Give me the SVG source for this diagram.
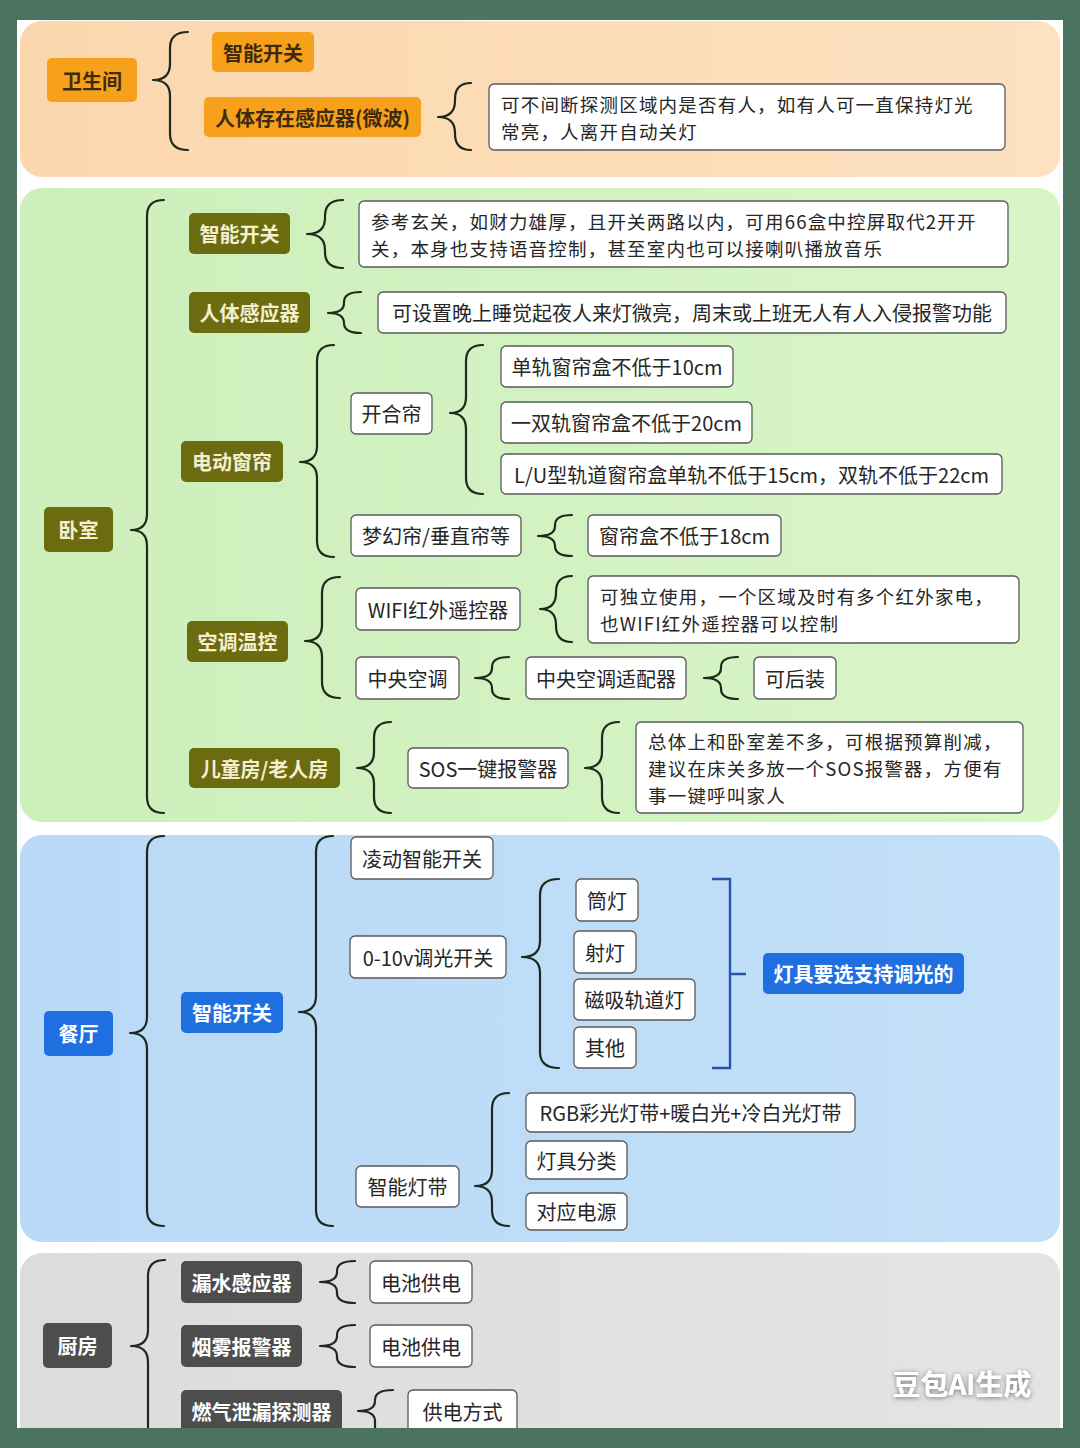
<svg xmlns="http://www.w3.org/2000/svg" width="1080" height="1448" viewBox="0 0 1080 1448">
<style>
.t{font-family:"Noto Sans CJK SC","Noto Sans",sans-serif;font-size:20px;fill:#262626;dominant-baseline:central}
.m{font-size:18.5px;letter-spacing:1.2px}
.c{text-anchor:middle}
.b{font-weight:700}
.wb{fill:#fff;stroke:#595959;stroke-width:1.3}
.or{fill:#f7a01c}
.ol{fill:#6d6b10}
.bl{fill:#1f6fe0}
.gr{fill:#4d4d4d}
.tor{fill:#3d2b0c}
.tol{fill:#f4efcf}
.tw{fill:#ffffff}
.br{fill:none;stroke:#1d2a1d;stroke-width:2.2;stroke-linecap:round;stroke-linejoin:round}
</style>
<defs>
<linearGradient id="gPeach" x1="0" y1="0" x2="1" y2="0"><stop offset="0" stop-color="#fbd7ad"/><stop offset="1" stop-color="#fde1c0"/></linearGradient>
<linearGradient id="gGreen" x1="0" y1="0" x2="1" y2="0"><stop offset="0" stop-color="#cdefbb"/><stop offset="1" stop-color="#d8f5c8"/></linearGradient>
<linearGradient id="gBlue" x1="0" y1="0" x2="1" y2="0"><stop offset="0" stop-color="#b9d9f6"/><stop offset="1" stop-color="#c2e0f8"/></linearGradient>
<linearGradient id="gGray" x1="0" y1="0" x2="1" y2="0"><stop offset="0" stop-color="#dcdcdc"/><stop offset="1" stop-color="#e4e4e4"/></linearGradient>
<filter id="sh" x="-20%" y="-40%" width="140%" height="180%"><feGaussianBlur in="SourceAlpha" stdDeviation="2.5"/><feOffset dx="0" dy="1"/><feComponentTransfer><feFuncA type="linear" slope="0.5"/></feComponentTransfer><feMerge><feMergeNode/><feMergeNode in="SourceGraphic"/></feMerge></filter>
</defs>
<rect x="0" y="0" width="1080" height="1448" fill="#4a7360"/>
<rect x="17" y="20" width="1046" height="1408" fill="#ffffff"/>
<g id="panels">
<rect x="20" y="21" width="1040" height="156" rx="22" fill="url(#gPeach)"/>
<rect x="20" y="188" width="1040" height="634" rx="22" fill="url(#gGreen)"/>
<rect x="20" y="835" width="1040" height="407" rx="22" fill="url(#gBlue)"/>
<rect x="20" y="1253" width="1040" height="220" rx="22" fill="url(#gGray)"/>
</g>
<g id="connectors">
<path class="br" d="M188,32 Q170,32 170,48 V64 Q170,80 153,80 Q170,80 170,96 V134 Q170,150 188,150"/>
<path class="br" d="M471,83 Q455,83 455,99 V101 Q455,117 438,117 Q455,117 455,133 V134 Q455,150 471,150"/>
<path class="br" d="M164,200 Q147,200 147,216 V514 Q147,530 131,530 Q147,530 147,546 V797 Q147,813 164,813"/>
<path class="br" d="M343,200 Q325,200 325,216 V218 Q325,234 307,234 Q325,234 325,250 V252 Q325,268 343,268"/>
<path class="br" d="M361,292 Q344,292 344,302 V303 Q344,313 328,313 Q344,313 344,323 Q344,333 361,333"/>
<path class="br" d="M334,345 Q317,345 317,361 V446 Q317,462 300,462 Q317,462 317,478 V541 Q317,557 334,557"/>
<path class="br" d="M483,345 Q466,345 466,361 V397 Q466,413 450,413 Q466,413 466,429 V478 Q466,494 483,494"/>
<path class="br" d="M572,515 Q555,515 555,525 V526 Q555,536 538,536 Q555,536 555,546 Q555,556 572,556"/>
<path class="br" d="M340,577 Q322,577 322,593 V625 Q322,641 305,641 Q322,641 322,657 V682 Q322,698 340,698"/>
<path class="br" d="M572,576 Q556,576 556,592 V593 Q556,609 540,609 Q556,609 556,625 V626 Q556,642 572,642"/>
<path class="br" d="M509,657 Q492,657 492,667 V668 Q492,678 475,678 Q492,678 492,688 V689 Q492,699 509,699"/>
<path class="br" d="M738,657 Q721,657 721,667 V668 Q721,678 704,678 Q721,678 721,688 V689 Q721,699 738,699"/>
<path class="br" d="M391,722 Q374,722 374,738 V752 Q374,768 357,768 Q374,768 374,784 V797 Q374,813 391,813"/>
<path class="br" d="M619,722 Q602,722 602,738 V752 Q602,768 585,768 Q602,768 602,784 V797 Q602,813 619,813"/>
<path class="br" d="M164,836 Q147,836 147,852 V1017 Q147,1033 130,1033 Q147,1033 147,1049 V1210 Q147,1226 164,1226"/>
<path class="br" d="M333,836 Q316,836 316,852 V996 Q316,1012 299,1012 Q316,1012 316,1028 V1210 Q316,1226 333,1226"/>
<path class="br" d="M559,879 Q540,879 540,895 V941 Q540,957 522,957 Q540,957 540,973 V1052 Q540,1068 559,1068"/>
<path fill="none" stroke="#2456a8" stroke-width="2.4" d="M712,879 H730 V1068 H712 M730,974 H746"/>
<path class="br" d="M509,1093 Q492,1093 492,1109 V1170 Q492,1186 475,1186 Q492,1186 492,1202 V1210 Q492,1226 509,1226"/>
<path class="br" d="M165,1260 Q148,1260 148,1276 V1330 Q148,1346 131,1346 Q148,1346 148,1362 V1460"/>
<path class="br" d="M355,1261 Q337,1261 337,1271 V1272 Q337,1282 320,1282 Q337,1282 337,1292 V1293 Q337,1303 355,1303"/>
<path class="br" d="M355,1325 Q337,1325 337,1335 V1336 Q337,1346 320,1346 Q337,1346 337,1356 V1357 Q337,1367 355,1367"/>
<path class="br" d="M393,1390 Q375,1390 375,1400 V1401 Q375,1411 358,1411 Q375,1411 375,1421 V1460"/>
</g>
<g id="n_wsj"><rect class="or" x="47" y="58" width="90" height="44" rx="5"/><text class="t c b tor" x="92" y="80">卫生间</text></g>
<g id="n_wsj_kg"><rect class="or" x="212" y="32" width="102" height="40" rx="5"/><text class="t c b tor" x="263" y="52">智能开关</text></g>
<g id="n_wsj_rt"><rect class="or" x="204" y="97" width="217" height="40" rx="5"/><text class="t c b tor" x="312.5" y="117">人体存在感应器(微波)</text></g>
<g id="n_wsj_desc"><rect class="wb" x="489" y="84" width="516" height="66" rx="5"/><text class="t m"><tspan x="501" y="103.5">可不间断探测区域内是否有人，如有人可一直保持灯光</tspan><tspan x="501" y="130.5">常亮，人离开自动关灯</tspan></text></g>

<g id="n_ws"><rect class="ol" x="44" y="507" width="69" height="45" rx="5"/><text class="t c b tol" x="78.5" y="529.5">卧室</text></g>
<g id="n_ws_kg"><rect class="ol" x="189" y="213" width="101" height="41" rx="5"/><text class="t c b tol" x="239.5" y="233.5">智能开关</text></g>
<g id="n_ws_kg_desc"><rect class="wb" x="359" y="201" width="649" height="66" rx="5"/><text class="t m"><tspan x="371" y="220.5">参考玄关，如财力雄厚，且开关两路以内，可用66盒中控屏取代2开开</tspan><tspan x="371" y="247.5">关，本身也支持语音控制，甚至室内也可以接喇叭播放音乐</tspan></text></g>
<g id="n_ws_rt"><rect class="ol" x="189" y="292" width="121" height="41" rx="5"/><text class="t c b tol" x="249.5" y="312.5">人体感应器</text></g>
<g id="n_ws_rt_desc"><rect class="wb" x="378" y="292" width="628" height="41" rx="5"/><text class="t c" x="692" y="312.5">可设置晚上睡觉起夜人来灯微亮，周末或上班无人有人入侵报警功能</text></g>
<g id="n_ws_cl"><rect class="ol" x="181" y="441" width="102" height="41" rx="5"/><text class="t c b tol" x="232" y="461.5">电动窗帘</text></g>
<g id="n_khl"><rect class="wb" x="351" y="393" width="81" height="41" rx="5"/><text class="t c" x="391.5" y="413.5">开合帘</text></g>
<g id="n_khl_1"><rect class="wb" x="501" y="346" width="232" height="41" rx="5"/><text class="t c" x="617" y="366.5">单轨窗帘盒不低于10cm</text></g>
<g id="n_khl_2"><rect class="wb" x="501" y="402" width="251" height="41" rx="5"/><text class="t c" x="626.5" y="422.5">一双轨窗帘盒不低于20cm</text></g>
<g id="n_khl_3"><rect class="wb" x="501" y="454" width="501" height="40" rx="5"/><text class="t c" x="751.5" y="474">L/U型轨道窗帘盒单轨不低于15cm，双轨不低于22cm</text></g>
<g id="n_mh"><rect class="wb" x="351" y="515" width="170" height="41" rx="5"/><text class="t c" x="436" y="535.5">梦幻帘/垂直帘等</text></g>
<g id="n_mh_1"><rect class="wb" x="588" y="515" width="193" height="41" rx="5"/><text class="t c" x="684.5" y="535.5">窗帘盒不低于18cm</text></g>
<g id="n_kt"><rect class="ol" x="187" y="621" width="101" height="41" rx="5"/><text class="t c b tol" x="237.5" y="641.5">空调温控</text></g>
<g id="n_wifi"><rect class="wb" x="356" y="588" width="164" height="42" rx="5"/><text class="t c" x="438" y="609">WIFI红外遥控器</text></g>
<g id="n_wifi_desc"><rect class="wb" x="588" y="576" width="431" height="67" rx="5"/><text class="t m"><tspan x="600" y="596">可独立使用，一个区域及时有多个红外家电，</tspan><tspan x="600" y="623">也WIFI红外遥控器可以控制</tspan></text></g>
<g id="n_zykt"><rect class="wb" x="356" y="657" width="103" height="42" rx="5"/><text class="t c" x="407.5" y="678">中央空调</text></g>
<g id="n_zykt_1"><rect class="wb" x="526" y="657" width="160" height="42" rx="5"/><text class="t c" x="606" y="678">中央空调适配器</text></g>
<g id="n_zykt_2"><rect class="wb" x="754" y="657" width="82" height="42" rx="5"/><text class="t c" x="795" y="678">可后装</text></g>
<g id="n_et"><rect class="ol" x="189" y="748" width="151" height="40" rx="5"/><text class="t c b tol" x="264.5" y="768">儿童房/老人房</text></g>
<g id="n_sos"><rect class="wb" x="408" y="748" width="160" height="40" rx="5"/><text class="t c" x="488" y="768">SOS一键报警器</text></g>
<g id="n_sos_desc"><rect class="wb" x="636" y="722" width="387" height="91" rx="5"/><text class="t m"><tspan x="648" y="740.5">总体上和卧室差不多，可根据预算削减，</tspan><tspan x="648" y="767.5">建议在床关多放一个SOS报警器，方便有</tspan><tspan x="648" y="794.5">事一键呼叫家人</tspan></text></g>

<g id="n_ct"><rect class="bl" x="44" y="1011" width="69" height="45" rx="5"/><text class="t c b tw" x="78.5" y="1033.5">餐厅</text></g>
<g id="n_ct_kg"><rect class="bl" x="181" y="992" width="102" height="41" rx="5"/><text class="t c b tw" x="232" y="1012.5">智能开关</text></g>
<g id="n_ld"><rect class="wb" x="351" y="837" width="142" height="42" rx="5"/><text class="t c" x="422" y="858">凌动智能开关</text></g>
<g id="n_010"><rect class="wb" x="350" y="936" width="156" height="42" rx="5"/><text class="t c" x="428" y="957">0-10v调光开关</text></g>
<g id="n_td"><rect class="wb" x="576" y="879" width="62" height="42" rx="5"/><text class="t c" x="607" y="900">筒灯</text></g>
<g id="n_sd"><rect class="wb" x="574" y="931" width="62" height="42" rx="5"/><text class="t c" x="605" y="952">射灯</text></g>
<g id="n_cx"><rect class="wb" x="574" y="979" width="121" height="41" rx="5"/><text class="t c" x="634.5" y="999.5">磁吸轨道灯</text></g>
<g id="n_qt"><rect class="wb" x="574" y="1027" width="62" height="41" rx="5"/><text class="t c" x="605" y="1047.5">其他</text></g>
<g id="n_dj"><rect class="bl" x="763" y="953" width="201" height="41" rx="5"/><text class="t c b tw" x="863.5" y="973.5">灯具要选支持调光的</text></g>
<g id="n_dd"><rect class="wb" x="356" y="1166" width="103" height="41" rx="5"/><text class="t c" x="407.5" y="1186.5">智能灯带</text></g>
<g id="n_rgb"><rect class="wb" x="526" y="1093" width="329" height="39" rx="5"/><text class="t c" x="690.5" y="1112.5">RGB彩光灯带+暖白光+冷白光灯带</text></g>
<g id="n_fl"><rect class="wb" x="526" y="1141" width="101" height="38" rx="5"/><text class="t c" x="576.5" y="1160">灯具分类</text></g>
<g id="n_dy"><rect class="wb" x="526" y="1193" width="101" height="37" rx="5"/><text class="t c" x="576.5" y="1211.5">对应电源</text></g>

<g id="n_cf"><rect class="gr" x="43" y="1323" width="69" height="45" rx="5"/><text class="t c b tw" x="77.5" y="1345.5">厨房</text></g>
<g id="n_ls"><rect class="gr" x="181" y="1261" width="121" height="42" rx="5"/><text class="t c b tw" x="241.5" y="1282">漏水感应器</text></g>
<g id="n_ls_1"><rect class="wb" x="370" y="1261" width="102" height="42" rx="5"/><text class="t c" x="421" y="1282">电池供电</text></g>
<g id="n_yw"><rect class="gr" x="181" y="1325" width="121" height="42" rx="5"/><text class="t c b tw" x="241.5" y="1346">烟雾报警器</text></g>
<g id="n_yw_1"><rect class="wb" x="370" y="1325" width="102" height="42" rx="5"/><text class="t c" x="421" y="1346">电池供电</text></g>
<g id="n_rq"><rect class="gr" x="181" y="1390" width="161" height="60" rx="5"/><text class="t c b tw" x="261.5" y="1411">燃气泄漏探测器</text></g>
<g id="n_rq_1"><rect class="wb" x="408" y="1390" width="109" height="60" rx="5"/><text class="t c" x="462.5" y="1411">供电方式</text></g>

<g id="watermark" filter="url(#sh)"><text class="t c b" x="962" y="1383" style="font-size:28px;fill:#ffffff">豆包AI生成</text></g>
<rect x="0" y="1428" width="1080" height="20" fill="#4a7360"/>
</svg>
